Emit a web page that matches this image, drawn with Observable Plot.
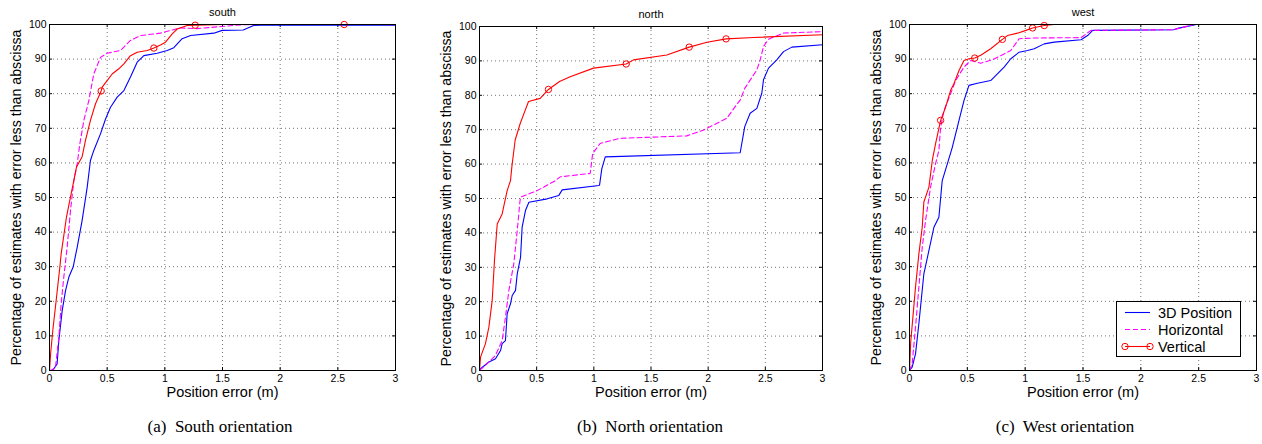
<!DOCTYPE html>
<html>
<head>
<meta charset="utf-8">
<script src="https://cdn.jsdelivr.net/npm/d3@7"></script>
<script src="https://cdn.jsdelivr.net/npm/@observablehq/plot@0.6"></script>
<style>
  html, body { margin: 0; padding: 0; background: #fff; }
  #fig { position: relative; width: 1262px; height: 444px; overflow: hidden; background: #fff; }
  .panel { position: absolute; top: 0; }
  .caption { position: absolute; top: 417px; width: 300px; text-align: center;
    font-family: "Liberation Serif", "Times New Roman", serif; font-size: 17px; color: #000; white-space: pre; }
  #legend { position: absolute; left: 1116px; top: 301px; width: 123px; height: 54px;
    border: 1px solid #000; background: #fff; font-family: "Liberation Sans", Arial, sans-serif; font-size: 14.5px; }
</style>
</head>
<body>
<div id="fig"></div>
<script>
// ---- tick values ----
const xTicks = [0, 0.5, 1, 1.5, 2, 2.5, 3];
const yTicks = [0, 10, 20, 30, 40, 50, 60, 70, 80, 90, 100];
const panelTitles = ["south", "north", "west"];
const captions = ["(a)  South orientation", "(b)  North orientation", "(c)  West orientation"];
const seriesNames = ["3D Position", "Horizontal", "Vertical"];
const xLabel = "Position error (m)";
const yLabel = "Percentage of estimates with error less than abscissa";

// ---- south ----
const south3D = [[0,0],[0.02,0],[0.038,0.5],[0.066,1.9],[0.081,8.7],[0.11,17.3],[0.139,23.1],[0.168,27],[0.205,29.9],[0.24,35.6],[0.283,43.4],[0.327,53],[0.355,60.7],[0.384,63.6],[0.442,68.4],[0.486,72.7],[0.529,76.1],[0.587,79],[0.645,80.9],[0.702,84.8],[0.76,89.1],[0.818,91],[0.934,91.7],[1.02,92.5],[1.078,93.3],[1.15,95.9],[1.223,96.8],[1.425,97.5],[1.497,98.3],[1.68,98.4],[1.77,99.7],[1.88,99.9],[3,99.8]];
const southHor = [[0,0],[0.03,0.3],[0.052,1],[0.081,9.6],[0.101,19.3],[0.124,27],[0.153,35.6],[0.182,46.2],[0.211,54.9],[0.24,59.7],[0.263,65.5],[0.298,72.3],[0.341,78],[0.384,85.7],[0.442,90.5],[0.5,91.7],[0.616,92.5],[0.702,95.4],[0.789,96.8],[0.962,97.5],[1.049,98.3],[1.136,99],[1.28,98.8],[1.483,99.4],[1.656,99.9],[1.8,100],[3,100]];
const southVer = [[0,0],[0.01,5],[0.03,12],[0.061,21.2],[0.09,30],[0.101,33.7],[0.147,44.3],[0.188,51.1],[0.211,54.9],[0.234,58.8],[0.283,61.8],[0.312,66.5],[0.355,72.3],[0.399,77.1],[0.448,80.8],[0.457,81.9],[0.5,83.8],[0.543,85.7],[0.601,87.2],[0.645,88.6],[0.702,91],[0.76,92],[0.847,92.5],[0.905,93.2],[0.962,94.1],[1.006,94.9],[1.064,97.3],[1.107,98.7],[1.194,99.7],[1.263,99.8],[1.5,100],[3,100]];
const southVerMarks = [[0.448,80.8],[0.905,93.2],[1.263,99.8],[2.555,100]];

// ---- north ----
const north3D = [[0,0],[0.009,0.5],[0.079,2.4],[0.14,3.4],[0.184,5.8],[0.198,7.8],[0.227,8.7],[0.242,16.5],[0.271,19.4],[0.286,21.8],[0.315,23.3],[0.33,28.1],[0.359,32.9],[0.373,41.7],[0.402,46.5],[0.432,48.9],[0.592,49.9],[0.694,50.9],[0.723,52.5],[1.044,53.8],[1.05,53.9],[1.07,58.7],[1.1,62.1],[2.28,63.3],[2.32,70.9],[2.367,74.8],[2.426,76.2],[2.469,80.6],[2.484,84.5],[2.528,87.9],[2.6,90.3],[2.659,92.7],[2.732,94],[3,94.7]];
const northHor = [[0,0],[0.064,1.9],[0.14,4.4],[0.198,8.7],[0.227,15.5],[0.257,23.3],[0.3,31],[0.33,40.7],[0.353,48.9],[0.359,50.4],[0.505,52.3],[0.665,55.2],[0.706,56.3],[0.968,57.3],[0.99,63.1],[1.055,66],[1.23,67.5],[1.813,68.2],[1.96,69.9],[2.163,73.3],[2.236,76.7],[2.28,78.6],[2.32,82],[2.426,87.4],[2.455,90.3],[2.484,94.2],[2.528,96.3],[2.659,98.1],[3,98.5]];
const northVer = [[0,0],[0.009,3.9],[0.052,7.8],[0.082,12.6],[0.111,20.3],[0.131,32],[0.155,42.6],[0.198,45.5],[0.242,52.3],[0.271,55.2],[0.283,59.2],[0.312,67],[0.356,71.8],[0.4,75.7],[0.429,78.2],[0.531,79.1],[0.603,81.7],[0.7,84],[0.793,85.4],[0.997,87.9],[1.283,89.1],[1.347,90.3],[1.638,91.7],[1.834,94],[1.99,95.4],[2.157,96.4],[2.397,96.8],[3,97.6]];
const northVerMarks = [[0.603,81.7],[1.283,89.1],[1.834,94],[2.157,96.4]];

// ---- west ----
const west3D = [[0,0],[0.023,1],[0.052,4.8],[0.081,13.5],[0.124,27.9],[0.168,34.7],[0.211,41.4],[0.254,44.3],[0.283,54.9],[0.327,59.7],[0.37,64.5],[0.428,72.3],[0.471,78],[0.514,82.4],[0.587,83],[0.702,83.8],[0.76,85.7],[0.818,87.7],[0.876,90.1],[0.948,92],[1.02,92.5],[1.078,93],[1.165,94.4],[1.251,94.9],[1.483,95.6],[1.54,96.8],[1.584,98.3],[2.284,98.5],[2.31,98.8],[2.48,100],[2.76,100]];
const westHor = [[0,0],[0.023,1.9],[0.052,12.5],[0.081,24.1],[0.11,35.6],[0.139,43.4],[0.182,53],[0.225,59.7],[0.254,63.6],[0.269,70.3],[0.298,75.1],[0.355,80],[0.399,83.8],[0.471,87.7],[0.529,89.6],[0.616,88.8],[0.731,90],[0.876,92.5],[0.948,95.9],[1.078,96.1],[1.483,96.2],[1.569,98.3],[2.284,98.5],[2.457,100],[2.76,100]];
const westVer = [[0,0],[0.01,8],[0.052,24.1],[0.081,33.7],[0.11,41.4],[0.124,48.7],[0.168,53],[0.197,60.7],[0.225,65.5],[0.269,72.3],[0.312,76.1],[0.355,80.9],[0.384,82.9],[0.428,86.7],[0.471,89.6],[0.514,90.1],[0.564,90.3],[0.616,91.1],[0.702,93],[0.803,95.7],[0.847,96.8],[0.934,97.5],[1.006,98.3],[1.064,99],[1.165,99.7],[1.25,100],[1.607,100]];
const westVerMarks = [[0.269,72.3],[0.564,90.3],[0.803,95.7],[1.064,99],[1.165,99.7]];

const colors = ["#0000ff", "#ff00ff", "#ff0000"];

const panels = [
  {title: panelTitles[0], left: 0, width: 420, ml: 49, mr: 25, mt: 24, s: [south3D, southHor, southVer], m: southVerMarks},
  {title: panelTitles[1], left: 420, width: 420, ml: 59, mr: 18, mt: 26, s: [north3D, northHor, northVer], m: northVerMarks},
  {title: panelTitles[2], left: 840, width: 422, ml: 69, mr: 6, mt: 24, s: [west3D, westHor, westVer], m: westVerMarks}
];

const fig = document.getElementById("fig");
const H = 405, bottomY = 370;
const tx = 0.026, ty = 0.87; // inward tick lengths in data units

panels.forEach((p, i) => {
  const px = d => d[0], py = d => d[1];
  const svg = Plot.plot({
    width: p.width, height: H,
    marginLeft: p.ml, marginRight: p.mr, marginTop: p.mt, marginBottom: H - bottomY,
    x: {domain: [0, 3]},
    y: {domain: [0, 100]},
    style: {fontFamily: "'Liberation Sans', Arial, sans-serif", fontSize: "10.5px", color: "#000", background: "#fff", overflow: "visible"},
    marks: [
      Plot.gridX(xTicks, {stroke: "#000", strokeOpacity: 0.55, strokeDasharray: "1,3"}),
      Plot.gridY(yTicks, {stroke: "#000", strokeOpacity: 0.55, strokeDasharray: "1,3"}),
      Plot.ruleX(xTicks, {y1: 0, y2: ty, stroke: "#000"}),
      Plot.ruleX(xTicks, {y1: 100 - ty, y2: 100, stroke: "#000"}),
      Plot.ruleY(yTicks, {x1: 0, x2: tx, stroke: "#000"}),
      Plot.ruleY(yTicks, {x1: 3 - tx, x2: 3, stroke: "#000"}),
      Plot.axisX(xTicks, {tickSize: 0, tickPadding: 4, label: null, tickFormat: d => String(d)}),
      Plot.axisY(yTicks, {tickSize: 0, tickPadding: 3, label: null, tickFormat: d => String(d)}),
      Plot.line(p.s[0], {x: px, y: py, stroke: colors[0], strokeWidth: 1.1}),
      Plot.line(p.s[1], {x: px, y: py, stroke: colors[1], strokeWidth: 1.1, strokeDasharray: "5,3"}),
      Plot.line(p.s[2], {x: px, y: py, stroke: colors[2], strokeWidth: 1.1}),
      Plot.dot(p.m, {x: px, y: py, r: 3.2, stroke: colors[2], fill: "none", strokeWidth: 1}),
      Plot.frame({stroke: "#000"}),
      Plot.text([p.title], {frameAnchor: "top", dy: -12, lineAnchor: "middle", text: d => d, fontSize: 11}),
      Plot.text([xLabel], {frameAnchor: "bottom", dy: 22, lineAnchor: "middle", text: d => d, fontSize: 14.5}),
      Plot.text([yLabel], {frameAnchor: "left", dx: -33, rotate: -90, textAnchor: "middle", lineAnchor: "middle", text: d => d, fontSize: 14.2})
    ]
  });
  svg.classList.add("panel");
  svg.style.left = p.left + "px";
  fig.appendChild(svg);
});

// captions
const capCenters = [220, 650, 1065];
captions.forEach((c, i) => {
  const d = document.createElement("div");
  d.className = "caption";
  d.style.left = (capCenters[i] - 150) + "px";
  d.textContent = c;
  fig.appendChild(d);
});

// legend
const leg = document.createElement("div");
leg.id = "legend";
const ns = "http://www.w3.org/2000/svg";
const ls = document.createElementNS(ns, "svg");
ls.setAttribute("width", 123); ls.setAttribute("height", 54);
ls.style.position = "absolute"; ls.style.left = "0"; ls.style.top = "0";
const rowY = [10.5, 27.5, 44.5];
seriesNames.forEach((name, i) => {
  const l = document.createElementNS(ns, "line");
  l.setAttribute("x1", 8); l.setAttribute("x2", 33);
  l.setAttribute("y1", rowY[i]); l.setAttribute("y2", rowY[i]);
  l.setAttribute("stroke", colors[i]); l.setAttribute("stroke-width", 1.1);
  if (i === 1) l.setAttribute("stroke-dasharray", "5,3");
  ls.appendChild(l);
  if (i === 2) {
    [8, 33].forEach(cx => {
      const c = document.createElementNS(ns, "circle");
      c.setAttribute("cx", cx); c.setAttribute("cy", rowY[i]); c.setAttribute("r", 3.2);
      c.setAttribute("fill", "none"); c.setAttribute("stroke", colors[i]);
      ls.appendChild(c);
    });
  }
  const t = document.createElementNS(ns, "text");
  t.setAttribute("x", 41); t.setAttribute("y", rowY[i]);
  t.setAttribute("dy", "0.35em");
  t.setAttribute("font-family", "'Liberation Sans', Arial, sans-serif");
  t.setAttribute("font-size", "14.5");
  t.textContent = name;
  ls.appendChild(t);
});
leg.appendChild(ls);
fig.appendChild(leg);
</script>
</body>
</html>
